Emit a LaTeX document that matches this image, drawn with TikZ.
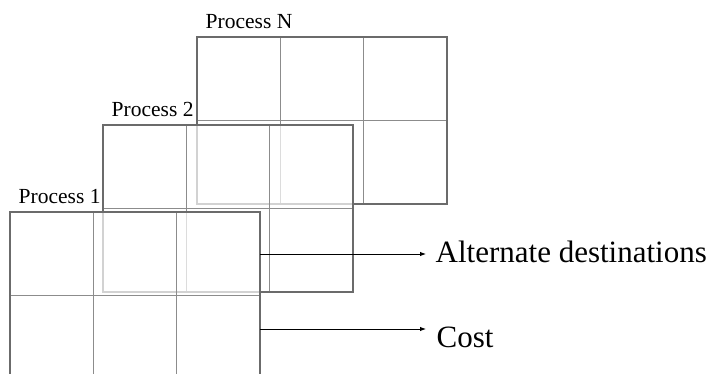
\documentclass[tikz,border=0pt]{standalone}
\usepackage{fontspec}
\setmainfont{Liberation Serif}
\usetikzlibrary{arrows.meta,calc}
\begin{document}
\begin{tikzpicture}[x=1pt,y=-1pt,
  gridframe/.style={draw=black!58,line width=1.3pt,fill=white,fill opacity=0.7,
    draw opacity=1,minimum width=250pt,minimum height=167pt,inner sep=0pt,
    outer sep=0pt,anchor=north west},
  cellline/.style={draw=black!45,line width=0.8pt},
  proclabel/.style={font=\fontsize{21.5}{24}\selectfont,inner sep=0pt,anchor=base west},
  biglabel/.style={font=\fontsize{31}{36}\selectfont,inner sep=0pt,anchor=base west},
  arr/.style={draw=black,line width=0.9pt,-{Latex[length=6pt,width=4.5pt]}}
]
\useasboundingbox (0,0) rectangle (718,374);
\clip (0,0) rectangle (718,374);

% one 2x3 table per process, back to front
\newcommand\processtable[3]{%
  \node[gridframe] (#1) at (#2) {};
  \draw[cellline] ($(#1.north west)+(83.33,0)$) -- ($(#1.south west)+(83.33,0)$);
  \draw[cellline] ($(#1.north west)+(166.67,0)$) -- ($(#1.south west)+(166.67,0)$);
  \draw[cellline] ($(#1.north west)+(0,83.5)$) -- ($(#1.north east)+(0,83.5)$);
  \node[gridframe,fill=none] (#1frame) at (#2) {};
  \node[proclabel] (#1label) at ($(#1.north west)+(8.5,-8.5)$) {#3};
}

\processtable{pN}{197,37}{Process N}
\processtable{p2}{103,125}{Process 2}
\processtable{p1}{10,212}{Process 1}

% outputs of the front table
\coordinate (altend) at (426,254);
\coordinate (costend) at (426,329);
\draw[arr] (p1.east |- altend) -- (altend);
\draw[arr] (p1.east |- costend) -- (costend);
\node[biglabel] (alt) at (435.5,263) {Alternate destinations};
\node[biglabel] (cost) at (436.5,347) {Cost};
\end{tikzpicture}
\end{document}
